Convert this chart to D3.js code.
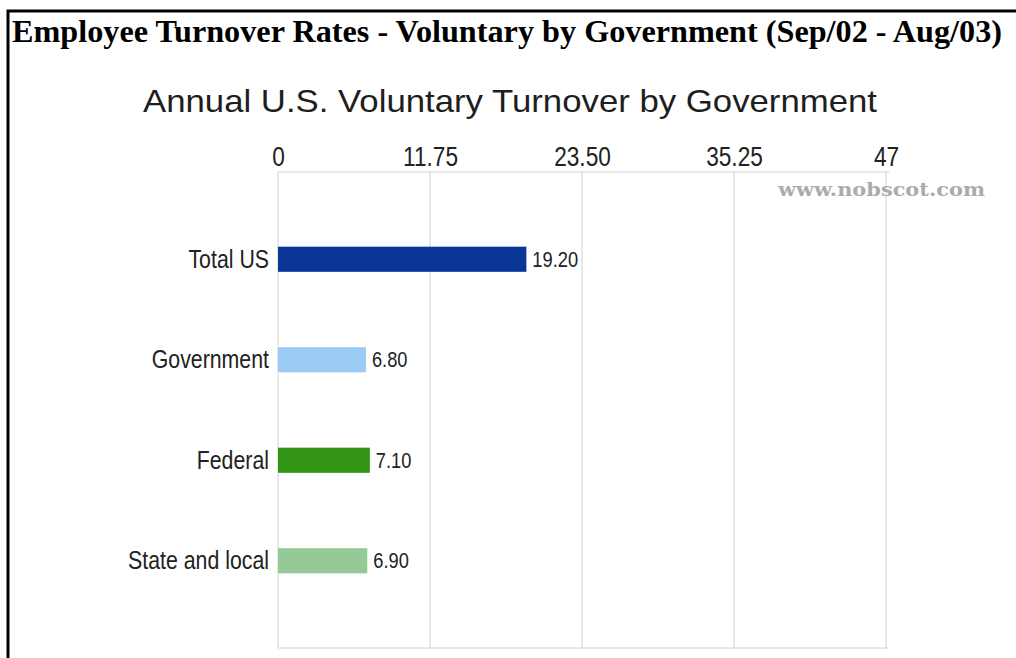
<!DOCTYPE html>
<html>
<head>
<meta charset="utf-8">
<script src="https://cdn.jsdelivr.net/npm/d3@7"></script>
<style>
  body { margin: 0; background: #fff; }
  svg { display: block; }
</style>
</head>
<body>
<svg id="chart"></svg>
<script>
const categories = ["Total US", "Government", "Federal", "State and local"];
const turnover = [19.20, 6.80, 7.10, 6.90];
const barColors = ["#0a3797", "#9ccbf6", "#319412", "#95c996"];
const tickValues = [0, 11.75, 23.50, 35.25, 47];
const tickLabels = ["0", "11.75", "23.50", "35.25", "47"];

const chart = {
  width: 1016,
  height: 658,
  margin: { top: 172, right: 130, bottom: 10, left: 278 },
};

// no narrow font installed, so labels get squeezed horizontally
const sans = "'Liberation Sans', Arial, sans-serif";
const squeeze = "scale(0.84,1)";

const svg = d3.select("#chart")
  .attr("width", chart.width)
  .attr("height", chart.height);

// table cell border (top and left only, cut by the window)
svg.append("path")
  .attr("d", `M8,${chart.height} V11 H${chart.width}`)
  .attr("fill", "none")
  .attr("stroke", "#000")
  .attr("stroke-width", 3);

svg.append("text")
  .attr("x", 12)
  .attr("y", 42)
  .attr("font-family", "'Liberation Serif', 'Times New Roman', serif")
  .attr("font-weight", "bold")
  .attr("font-size", 31)
  .attr("textLength", 990)
  .attr("lengthAdjust", "spacingAndGlyphs")
  .text("Employee Turnover Rates - Voluntary by Government (Sep/02 - Aug/03)");

svg.append("text")
  .attr("x", 143)
  .attr("y", 112)
  .attr("font-family", sans)
  .attr("font-size", 32)
  .attr("fill", "#1e1e1e")
  .attr("textLength", 734)
  .attr("lengthAdjust", "spacingAndGlyphs")
  .text("Annual U.S. Voluntary Turnover by Government");

let x = d3.scaleLinear()
  .domain([0, 47])
  .range([chart.margin.left, 886]);

let y = d3.scaleBand()
  .domain(categories)
  .range([209, 611])
  .paddingInner(0.75)
  .paddingOuter(0.375);

const plotBottom = 648;

// vertical grid lines
svg.append("g")
  .selectAll("line")
  .data(tickValues)
  .join("line")
  .attr("x1", d => x(d))
  .attr("x2", d => x(d))
  .attr("y1", chart.margin.top)
  .attr("y2", plotBottom)
  .attr("stroke", "#e0e0e0")
  .attr("stroke-width", 1.5);

// top and bottom frame lines
svg.append("g")
  .selectAll("line")
  .data([chart.margin.top, plotBottom])
  .join("line")
  .attr("x1", x(0))
  .attr("x2", x(47) + 3)
  .attr("y1", d => d)
  .attr("y2", d => d)
  .attr("stroke", "#e0e0e0")
  .attr("stroke-width", 1.5);

// top axis labels
let xAxis = g => g
  .attr("transform", `translate(0,${chart.margin.top - 6})`)
  .call(d3.axisTop(x)
    .tickValues(tickValues)
    .tickFormat((d, i) => tickLabels[i])
    .tickSize(0)
    .tickPadding(0))
  .call(g => g.select(".domain").remove())
  .call(g => g.selectAll("text")
    .attr("transform", squeeze)
    .attr("font-family", sans)
    .attr("font-size", 27)
    .attr("fill", "#222"));

svg.append("g").call(xAxis);

svg.append("text")
  .attr("x", 778)
  .attr("y", 196)
  .attr("font-family", "'DejaVu Serif', Georgia, serif")
  .attr("font-weight", "bold")
  .attr("font-size", 19)
  .attr("fill", "#ababab")
  .attr("textLength", 207)
  .attr("lengthAdjust", "spacingAndGlyphs")
  .text("www.nobscot.com");

// bars
svg.append("g")
  .selectAll("rect")
  .data(turnover)
  .join("rect")
  .attr("x", x(0))
  .attr("y", (d, i) => y(categories[i]))
  .attr("width", d => x(d) - x(0))
  .attr("height", y.bandwidth())
  .attr("fill", (d, i) => barColors[i]);

// value labels
svg.append("g")
  .selectAll("text")
  .data(turnover)
  .join("text")
  .attr("transform", (d, i) =>
    `translate(${x(d) + 6},${y(categories[i]) + y.bandwidth() / 2}) scale(0.83,1)`)
  .attr("dy", "0.35em")
  .attr("font-family", sans)
  .attr("font-size", 22)
  .attr("fill", "#222")
  .text(d => d.toFixed(2));

// category labels
let yAxis = g => g
  .attr("transform", `translate(${x(0) - 9},0)`)
  .call(d3.axisLeft(y).tickSize(0).tickPadding(0))
  .call(g => g.select(".domain").remove())
  .call(g => g.selectAll("text")
    .attr("transform", "scale(0.82,1)")
    .attr("font-family", sans)
    .attr("font-size", 26)
    .attr("fill", "#222"));

svg.append("g").call(yAxis);
</script>
</body>
</html>
